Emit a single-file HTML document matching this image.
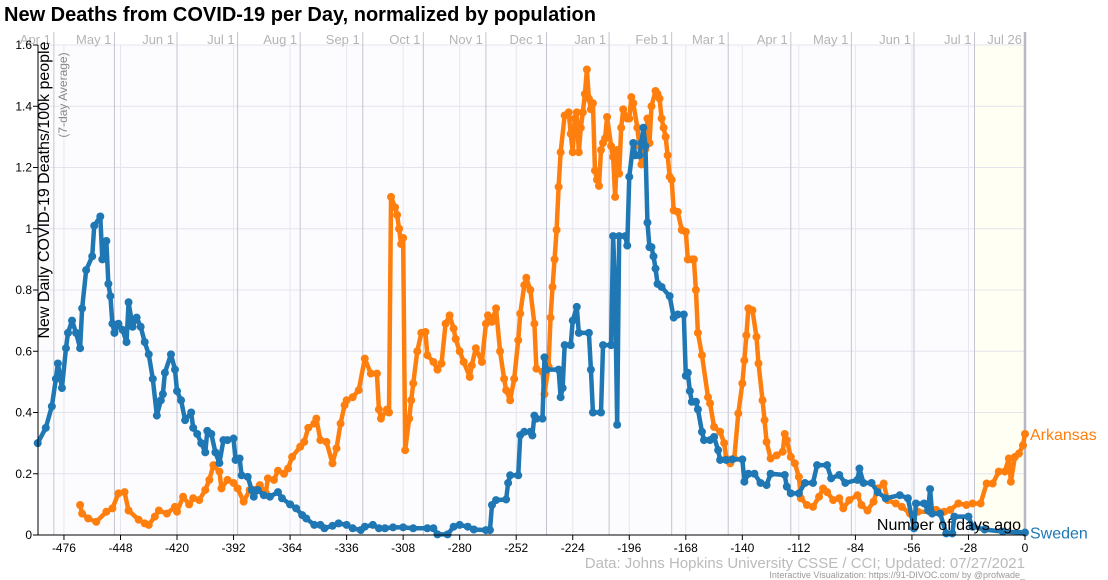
<!DOCTYPE html>
<html><head><meta charset="utf-8"><style>
body{margin:0;background:#fff;width:1108px;height:580px;overflow:hidden;font-family:"Liberation Sans",sans-serif}
svg{display:block}
</style></head><body>
<svg id="chart" width="1108" height="580">
<text x="4" y="21" font-size="20" font-weight="bold" fill="#000">New Deaths from COVID-19 per Day, normalized by population</text>
<g id="grid"></g><g id="series"></g><g id="axes"></g>
<text transform="translate(49,190) rotate(-90)" text-anchor="middle" font-size="16" fill="#000">New Daily COVID-19 Deaths/100k people</text>
<text transform="translate(67,95) rotate(-90)" text-anchor="middle" font-size="12" fill="#888">(7-day Average)</text>
<text x="1021" y="530" text-anchor="end" font-size="16" fill="#000">Number of days ago</text>
<text x="1025" y="568" text-anchor="end" font-size="15" fill="#bbb">Data: Johns Hopkins University CSSE / CCI; Updated: 07/27/2021</text>
<text x="1025" y="578" text-anchor="end" font-size="9" fill="#999">Interactive Visualization: https://91-DIVOC.com/ by @profwade_</text>
</svg>
<script>
const yTicks=[0,0.2,0.4,0.6,0.8,1,1.2,1.4,1.6];
const yTickLabels=["0","0.2","0.4","0.6","0.8","1","1.2","1.4","1.6"];
const xTicks=[-476,-448,-420,-392,-364,-336,-308,-280,-252,-224,-196,-168,-140,-112,-84,-56,-28,0];
const monthDays=[-481,-451,-420,-390,-359,-328,-298,-267,-237,-206,-175,-147,-116,-86,-55,-25,0];
const monthLabels=["Apr 1","May 1","Jun 1","Jul 1","Aug 1","Sep 1","Oct 1","Nov 1","Dec 1","Jan 1","Feb 1","Mar 1","Apr 1","May 1","Jun 1","Jul 1","Jul 26"];
const swedenDays=[-489,-485,-482,-480,-479,-477,-475,-474,-472,-470,-468,-467,-465,-462,-461,-458,-457,-455,-454,-453,-452,-451,-449,-447,-445,-444,-442,-440,-438,-436,-434,-432,-430,-428,-427,-426,-423,-421,-420,-418,-416,-413,-412,-410,-408,-406,-405,-403,-401,-399,-397,-395,-392,-391,-389,-388,-385,-383,-382,-380,-377,-374,-370,-368,-364,-361,-358,-356,-352,-349,-347,-343,-340,-336,-333,-329,-327,-323,-320,-317,-313,-308,-303,-296,-293,-291,-286,-283,-280,-276,-273,-267,-265,-264,-262,-257,-256,-255,-251,-250,-248,-245,-244,-243,-242,-239,-238,-237,-231,-230,-229,-228,-225,-224,-222,-221,-216,-215,-214,-210,-209,-205,-204,-203,-202,-201,-198,-197,-196,-194,-193,-191,-190,-189,-188,-187,-186,-185,-184,-183,-182,-180,-176,-174,-172,-169,-168,-167,-166,-165,-163,-162,-160,-159,-156,-154,-152,-151,-148,-145,-140,-139,-137,-134,-131,-128,-126,-119,-118,-116,-112,-109,-105,-103,-98,-96,-92,-89,-83,-82,-80,-76,-73,-69,-62,-58,-55,-54,-50,-48,-47,-46,-42,-39,-36,-35,-28,-26,-20,-11,0];
const swedenVals=[0.30,0.35,0.42,0.51,0.56,0.48,0.61,0.66,0.70,0.66,0.61,0.74,0.865,0.91,1.01,1.04,0.90,0.96,0.82,0.78,0.69,0.66,0.69,0.67,0.63,0.76,0.68,0.71,0.68,0.63,0.59,0.51,0.39,0.44,0.46,0.53,0.59,0.54,0.47,0.44,0.375,0.40,0.35,0.33,0.30,0.27,0.34,0.33,0.27,0.235,0.31,0.31,0.315,0.245,0.25,0.195,0.19,0.147,0.125,0.147,0.13,0.125,0.14,0.12,0.10,0.087,0.065,0.054,0.033,0.033,0.022,0.03,0.038,0.033,0.022,0.016,0.027,0.033,0.022,0.022,0.025,0.025,0.022,0.022,0.022,0.002,0.002,0.027,0.033,0.027,0.018,0.016,0.016,0.098,0.114,0.116,0.17,0.195,0.195,0.326,0.337,0.337,0.325,0.39,0.38,0.38,0.58,0.54,0.54,0.45,0.48,0.62,0.62,0.70,0.745,0.66,0.66,0.54,0.40,0.40,0.62,0.62,0.976,0.80,0.36,0.976,0.976,0.945,1.17,1.28,1.24,1.24,1.28,1.33,1.27,1.02,0.94,0.94,0.91,0.87,0.82,0.81,0.78,0.71,0.72,0.72,0.52,0.53,0.47,0.435,0.435,0.41,0.337,0.31,0.31,0.32,0.277,0.245,0.245,0.247,0.247,0.174,0.2,0.2,0.17,0.163,0.2,0.196,0.158,0.136,0.136,0.17,0.17,0.228,0.228,0.185,0.196,0.17,0.18,0.217,0.17,0.17,0.14,0.12,0.13,0.12,0.022,0.103,0.103,0.08,0.15,0.07,0.07,0.005,0.005,0.06,0.06,0.027,0.018,0.011,0.008];
const arkDays=[-468,-467,-464,-460,-455,-452,-449,-446,-444,-439,-436,-434,-431,-429,-425,-421,-420,-417,-414,-412,-409,-406,-404,-402,-399,-398,-395,-392,-390,-387,-384,-382,-379,-376,-375,-372,-370,-367,-365,-363,-359,-357,-355,-352,-351,-349,-346,-343,-341,-339,-337,-336,-333,-330,-327,-324,-321,-320,-319,-316,-315,-314,-312,-311,-310,-309,-308,-307,-305,-304,-303,-301,-299,-297,-296,-293,-291,-289,-287,-285,-283,-282,-280,-278,-275,-274,-272,-269,-267,-266,-264,-262,-260,-258,-257,-255,-253,-251,-250,-248,-247,-245,-243,-242,-239,-238,-236,-235,-234,-233,-232,-231,-230,-228,-226,-225,-224,-223,-222,-221,-220,-219,-218,-217,-216,-215,-214,-213,-212,-211,-210,-209,-208,-207,-205,-204,-203,-202,-201,-200,-199,-197,-196,-195,-194,-192,-191,-190,-188,-187,-186,-185,-183,-182,-181,-180,-179,-178,-177,-176,-175,-174,-172,-170,-168,-167,-165,-164,-163,-162,-160,-157,-156,-154,-151,-149,-148,-146,-144,-142,-140,-139,-138,-137,-135,-133,-132,-130,-129,-128,-126,-123,-120,-119,-118,-116,-114,-112,-111,-108,-105,-102,-100,-98,-95,-92,-90,-87,-83,-81,-78,-75,-73,-70,-68,-64,-61,-57,-53,-47,-44,-40,-37,-33,-29,-26,-22,-19,-16,-13,-10,-8,-7,-5,-3,-1,0];
const arkVals=[0.098,0.07,0.054,0.043,0.076,0.087,0.136,0.14,0.08,0.05,0.038,0.033,0.06,0.08,0.07,0.092,0.076,0.125,0.10,0.12,0.114,0.147,0.18,0.228,0.207,0.152,0.18,0.17,0.152,0.109,0.147,0.147,0.163,0.136,0.185,0.18,0.21,0.2,0.217,0.255,0.288,0.304,0.35,0.364,0.38,0.31,0.304,0.234,0.283,0.364,0.424,0.44,0.45,0.473,0.576,0.527,0.527,0.41,0.38,0.41,0.40,1.104,1.07,1.045,1.0,0.95,0.97,0.277,0.38,0.44,0.495,0.6,0.66,0.663,0.587,0.565,0.54,0.56,0.69,0.717,0.674,0.64,0.6,0.565,0.516,0.554,0.61,0.565,0.69,0.717,0.696,0.74,0.6,0.51,0.473,0.44,0.51,0.636,0.723,0.816,0.84,0.8,0.69,0.543,0.533,0.46,0.55,0.71,0.81,0.9,0.996,1.137,1.25,1.37,1.38,1.31,1.25,1.36,1.38,1.25,1.33,1.38,1.44,1.52,1.425,1.39,1.41,1.19,1.16,1.14,1.257,1.28,1.295,1.365,1.27,1.235,1.104,1.257,1.18,1.33,1.39,1.36,1.36,1.43,1.41,1.33,1.27,1.21,1.26,1.36,1.28,1.40,1.45,1.44,1.425,1.36,1.33,1.30,1.24,1.17,1.16,1.06,1.055,0.996,0.99,0.9,0.9,0.9,0.8,0.66,0.587,0.45,0.43,0.353,0.337,0.30,0.25,0.234,0.25,0.397,0.495,0.57,0.652,0.74,0.734,0.647,0.56,0.44,0.375,0.304,0.25,0.26,0.272,0.33,0.31,0.255,0.234,0.19,0.12,0.098,0.092,0.125,0.152,0.14,0.114,0.12,0.087,0.114,0.13,0.098,0.08,0.109,0.152,0.168,0.114,0.103,0.092,0.07,0.076,0.076,0.082,0.076,0.082,0.103,0.098,0.103,0.103,0.168,0.168,0.207,0.207,0.25,0.174,0.255,0.266,0.293,0.33];

const NS="http://www.w3.org/2000/svg";
const X0=1025,PX=2.019,Y0=535,PY=306.25,LEFT=38;
const xs=d=>X0+PX*d, ys=v=>Y0-PY*v;
function mk(tag,attrs,parent){const e=document.createElementNS(NS,tag);for(const k in attrs)e.setAttribute(k,attrs[k]);parent.appendChild(e);return e;}
const grid=document.getElementById('grid'),axes=document.getElementById('axes'),ser=document.getElementById('series');
const bg=mk('rect',{x:LEFT,y:45,width:X0-LEFT,height:Y0-45,fill:'#fcfcfe'},grid);


const band=mk('rect',{x:xs(-25),y:45,width:X0-xs(-25),height:Y0-45,fill:'#fffff3'},grid);


yTicks.forEach((v,i)=>{
  const l=mk('line',{x1:LEFT,x2:X0,y1:ys(v),y2:ys(v),stroke:'#e4e4ee','stroke-width':1},grid);
  
  
  mk('line',{x1:LEFT-5,x2:LEFT,y1:ys(v),y2:ys(v),stroke:'#000'},axes);
  const t=mk('text',{x:LEFT-6,y:ys(v)+4,'text-anchor':'end','font-size':12,fill:'#000'},axes);
  t.textContent=yTickLabels[i];
  
  
});
xTicks.forEach(d=>{
  const l=mk('line',{x1:xs(d),x2:xs(d),y1:45,y2:Y0,stroke:'#e6e6f0'},grid);
  
  
  mk('line',{x1:xs(d),x2:xs(d),y1:Y0,y2:Y0+5,stroke:'#000'},axes);
  const t=mk('text',{x:xs(d),y:Y0+17,'text-anchor':'middle','font-size':12,fill:'#000'},axes);
  t.textContent=String(d);
  
  
});
monthDays.forEach((d,i)=>{
  const last=i===monthDays.length-1;
  const l=mk('line',{x1:xs(d),x2:xs(d),y1:32,y2:Y0,stroke:last?'#b8b8c4':'#c4c4d0','stroke-width':last?2.5:1},grid);
  
  
  const t=mk('text',{x:xs(d)-3,y:44,'text-anchor':'end','font-size':13,fill:'#b4b4b4'},grid);
  t.textContent=monthLabels[i];
  
  
});
const ax1=mk('line',{x1:LEFT,x2:LEFT,y1:45,y2:Y0,stroke:'#000'},axes);


const ax2=mk('line',{x1:LEFT,x2:X0,y1:Y0,y2:Y0,stroke:'#000'},axes);


function drawSeries(days,vals,color,name,label){
  const n=Math.min(days.length,vals.length);
  const g=mk('g',{},ser);
  
  
  const pts=[];
  for(let i=0;i<n;i++)pts.push(xs(days[i])+','+ys(vals[i]));
  const p=mk('polyline',{points:pts.join(' '),fill:'none',stroke:color,'stroke-width':4.5,'stroke-linejoin':'round'},g);
  
  
  for(let i=0;i<n;i++){
    const c=mk('circle',{cx:xs(days[i]),cy:ys(vals[i]),r:4,fill:color},g);
    
    
  }
  const last=n-1;
  const t=mk('text',{x:xs(days[last])+5,y:ys(vals[last])+6,'font-size':16,fill:color},ser);
  t.textContent=label;
  
  
}
drawSeries(arkDays,arkVals,'#ff7f0e','arkansas','Arkansas');
drawSeries(swedenDays,swedenVals,'#1f77b4','sweden','Sweden');
</script>
</body></html>
